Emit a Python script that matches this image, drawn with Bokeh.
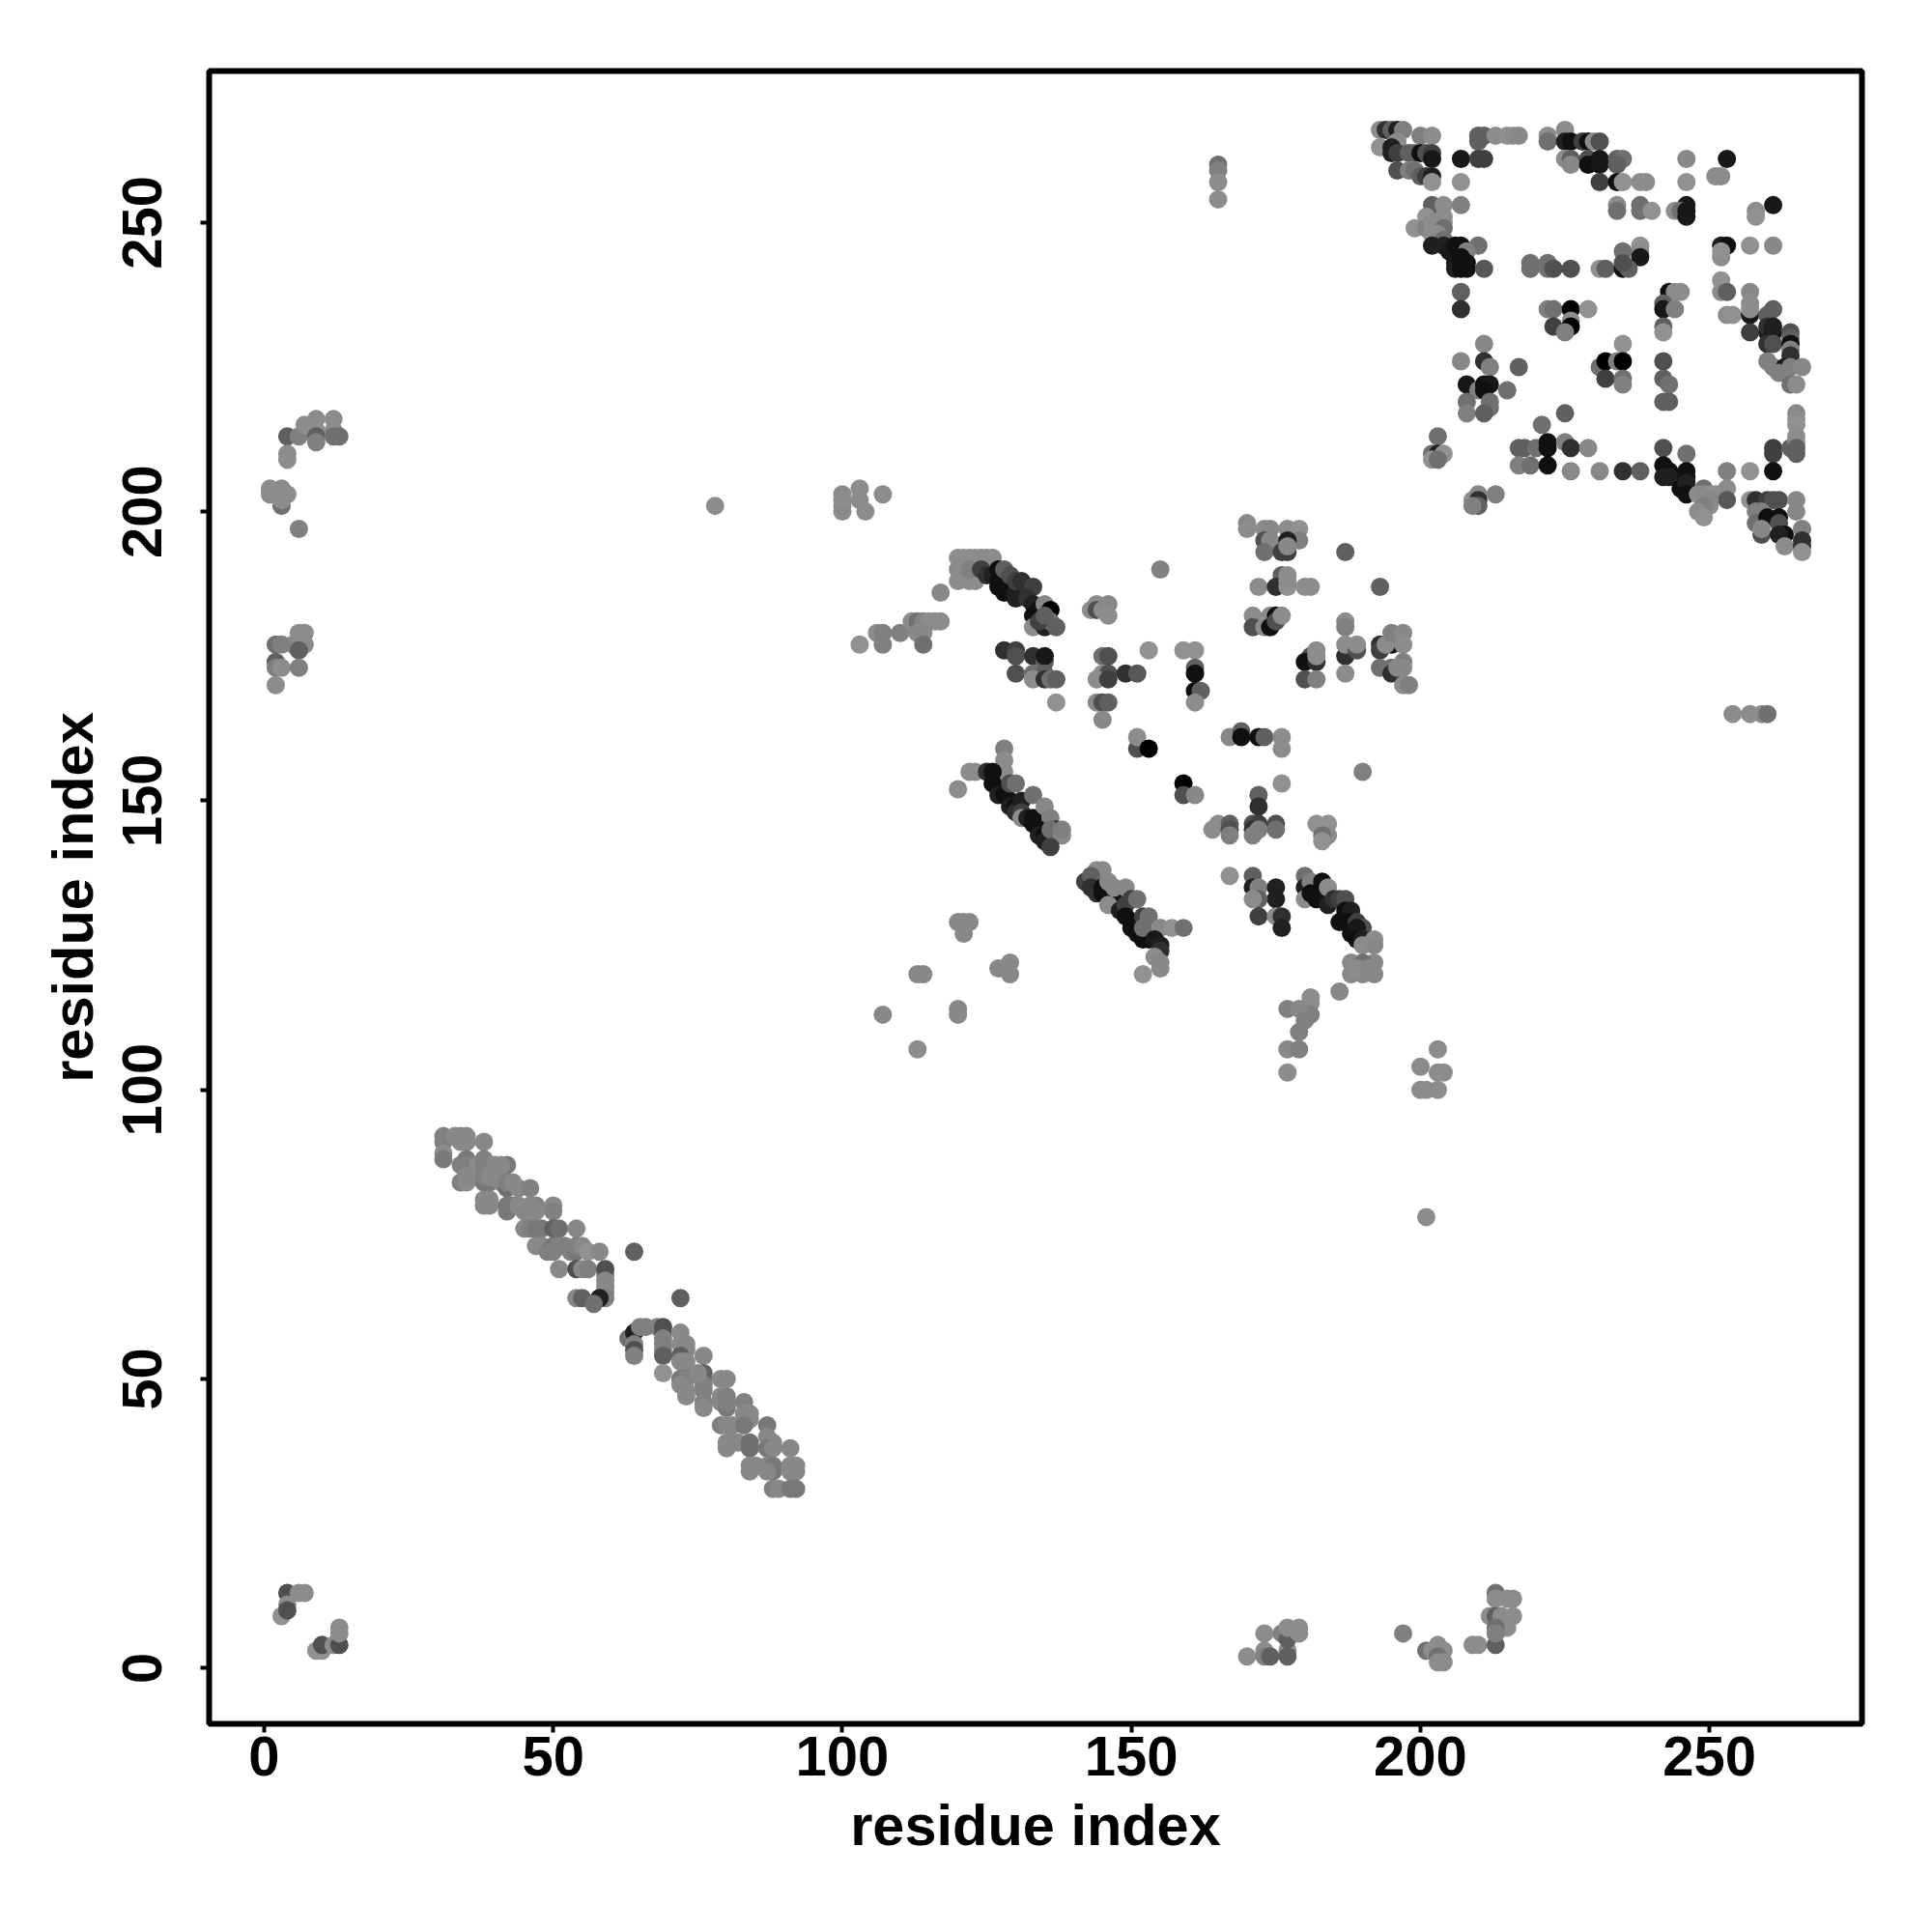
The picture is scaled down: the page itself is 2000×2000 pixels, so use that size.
from bokeh.plotting import figure
from bokeh.models import ColumnDataSource, Range1d, FixedTicker
from bokeh.embed import file_html
from bokeh.resources import INLINE

TICKS = [0, 50, 100, 150, 200, 250]
X_LABEL = "residue index"
Y_LABEL = "residue index"

# (residue i, residue j, grey level of the mark)
top_right = [
 (193,266,140),(194,266,48),(195,266,96),(196,266,32),(197,266,128),(200,265,128),(202,265,140),(210,265,96),(211,265,96),(213,265,140),(215,265,145),(216,265,140),(217,265,136),
 (222,265,140),(225,266,140),(210,264,96),(222,264,112),(225,264,32),(226,264,16),(228,264,64),(229,264,16),(230,264,140),(231,264,80),
 (193,263,145),(196,264,140),(195,263,32),(195,262,32),(196,262,64),(198,262,96),(199,262,96),(200,262,16),(201,262,80),(202,262,64),(202,261,24),
 (207,261,24),(210,261,64),(211,261,64),(225,261,140),(226,261,96),(229,261,80),(231,261,24),(234,261,96),(235,261,112),(246,261,136),(253,261,24),
 (196,259,80),(198,259,128),(199,259,112),(200,258,96),(201,258,64),(202,258,32),(226,260,136),(229,260,16),(231,260,24),(234,260,96),
 (202,257,145),(207,257,145),(231,257,64),(234,257,16),(235,257,145),(238,257,140),(239,257,140),(246,257,145),(251,258,140),(252,258,140),
 (202,253,96),(204,253,140),(207,253,128),(234,253,140),(238,253,112),(246,253,24),(261,253,24),(234,252,112),(238,252,112),(240,252,145),(244,252,140),(245,252,112),(246,252,24),(258,252,140),(258,251,145),(246,251,24),
 (199,249,145),(201,251,145),(201,249,128),(202,250,140),(203,250,140),(204,251,140),(204,250,140),(204,249,112),(203,248,140),(202,248,140),(204,247,112),
 (202,246,32),(204,246,32),(205,245,24),(206,246,16),(207,246,16),(210,246,112),(238,246,145),(238,245,140),(252,246,32),(253,246,16),(257,246,145),(261,246,136),(208,245,128),(235,245,112),(238,244,24),(252,244,140),(252,245,145),
 (206,243,24),(206,242,32),(207,244,16),(207,243,16),(207,242,16),(208,243,16),(208,242,16),(211,242,88),(219,243,112),(219,242,112),(222,243,112),(222,242,112),(223,242,80),(226,242,80),(231,242,145),(232,242,96),(235,242,16),(236,242,96),(235,243,80),
 (252,240,145),(207,238,96),(243,238,16),(244,238,140),(245,238,140),(252,238,140),(253,238,96),(257,238,136),(257,236,140),(207,235,48),(222,235,128),(223,235,112),(226,235,0),(229,235,145),
 (242,236,96),(242,235,24),(244,235,128),(253,234,140),(254,234,145),(257,234,24),(257,235,140),(261,235,96),(260,234,96),(226,233,140),(223,232,64),(226,232,0),(225,231,128),
 (242,232,96),(242,231,145),(257,231,64),(260,231,32),(260,232,48),(261,231,24),(261,232,32),(264,231,80),(264,230,96),(211,229,136),(235,229,145),(260,229,48),(261,229,80),(264,229,16),(264,228,128),(264,227,48),
 (207,226,136),(211,226,48),(212,225,128),(217,225,96),(231,225,112),(232,226,0),(234,226,128),(235,226,0),(242,226,80),(260,226,128),(261,225,128),(263,225,24),(262,224,128),(264,225,128),(266,225,136),
 (208,222,24),(210,221,128),(211,222,16),(212,222,24),(211,221,16),(215,221,112),(232,223,64),(235,223,112),(235,222,128),(242,223,96),(243,222,112),(264,222,112),(265,222,140),
 (208,219,112),(212,219,112),(212,218,112),(242,219,96),(243,219,96),(208,217,128),(211,217,96),(225,217,96),(265,217,136),(265,216,140),(265,215,145),(221,215,112),(265,213,140),(203,213,112),
 (217,211,96),(218,211,96),(220,211,112),(222,212,16),(222,211,16),(225,212,128),(226,211,48),(229,211,136),(242,211,80),(246,210,112),(261,211,64),(261,210,64),(264,211,96),(265,212,140),(265,211,96),(265,210,96),
 (202,210,112),(203,210,32),(204,210,145),(202,209,145),(203,209,112),(217,208,128),(219,208,112),(222,208,16),(226,207,136),(231,207,136),(235,207,48),(238,207,96),(253,207,128),(257,207,145),(261,207,16),
 (242,208,16),(243,207,16),(242,206,32),(243,206,32),(245,205,32),(246,207,16),(246,206,16),(245,204,16),(246,205,32),(246,203,16),(249,204,112),
 (209,202,145),(210,203,136),(210,202,48),(210,201,96),(209,201,128),(213,203,128),
 (248,203,140),(249,203,136),(250,203,140),(251,203,145),(252,203,140),(253,204,140),(253,202,88),(250,201,140),(250,202,136),(249,201,128),(248,200,140),(249,199,145),
 (257,202,145),(258,202,48),(260,202,64),(261,202,80),(262,202,80),(265,202,136),(265,200,136),(258,200,128),(259,200,128),(258,198,112),(259,196,80),(260,199,16),(262,199,16),(262,198,80),(263,196,16),(262,196,32),(263,194,140),(266,197,128),(266,195,48),(266,194,48),(266,193,145),(259,197,136),
 (187,193,96),(193,187,96),
]

mid_block = [
 (170,198,136),(170,197,140),(173,197,140),(174,197,136),(177,197,140),(179,197,145),(179,195,128),(173,195,80),(174,195,136),(177,195,32),(173,193,112),(176,193,64),(177,193,64),(177,194,136),
 (172,187,140),(176,189,96),(175,187,48),(177,189,140),(177,187,145),(180,187,140),(181,187,140),(177,188,140),
 (171,182,140),(171,180,80),(174,182,140),(173,180,140),(174,180,16),(175,182,16),(175,181,80),(176,182,140),
 (181,175,80),(180,174,16),(182,174,48),(182,175,140),(182,176,140),(180,171,80),(182,171,128),
 (187,181,140),(187,180,128),(187,175,48),(187,177,140),(189,176,80),(189,177,140),(187,172,140),
 (193,177,48),(193,176,64),(193,173,112),(195,173,112),(195,172,48),(195,177,16),(194,177,140),(195,179,128),(197,179,136),(197,177,140),(197,174,128),(196,173,136),(197,173,136),(197,170,140),(198,170,128),
]

arc_upper = [
 (120,192,140),(121,192,140),(122,192,140),(123,192,140),(124,192,140),(125,192,140),(126,192,140),(120,190,136),(121,190,140),(120,188,140),(122,188,140),(123,188,140),(117,186,136),(122,190,128),
 (124,190,64),(125,189,48),(126,189,32),(127,190,16),(127,188,16),(127,187,16),(128,187,16),(128,186,16),(129,186,16),(130,186,32),(130,185,32),(128,190,96),(129,189,80),(130,188,64),(131,188,48),(132,187,48),(133,187,64),(132,185,48),(133,184,32),(134,183,16),(133,182,16),(135,184,136),(136,183,0),
 (133,180,140),(135,180,32),(136,181,112),(137,180,96),(134,181,64),(135,182,96),
 (103,177,145),(106,179,140),(107,179,128),(107,177,128),(110,179,128),(112,181,140),(113,181,112),(114,181,128),(115,181,140),(116,181,140),(117,181,140),(113,179,136),(114,179,136),(114,177,112),
 (128,176,48),(130,176,64),(130,175,80),(133,175,48),(135,174,96),(135,175,24),(130,172,80),(133,172,112),(135,172,96),(133,171,140),(135,171,48),(136,171,112),(137,171,96),(137,167,145),
 (143,183,140),(144,184,140),(144,183,80),(145,183,140),(146,184,136),(146,182,140),(155,190,128),(153,176,145),(159,176,145),(161,176,145),
 (145,175,112),(146,175,80),(145,172,140),(146,172,80),(144,171,140),(146,171,64),(149,172,48),(151,172,88),
 (144,167,136),(145,167,80),(146,167,96),(145,164,136),(161,173,96),(161,172,16),(161,169,16),(162,169,96),(161,167,140),
 (151,159,80),(151,161,140),(153,159,0),(159,153,0),(159,151,80),(161,151,136),(164,145,140),
]

strand_lower = [
 (128,159,128),(128,157,140),(128,155,140),(122,155,140),(123,155,140),(120,152,140),(125,155,48),(126,155,16),
 (126,153,16),(127,152,16),(127,151,32),(128,151,16),(129,150,16),(129,149,32),(130,149,16),(130,148,48),(129,153,80),(130,153,112),(131,150,32),(131,148,64),(131,147,140),(132,147,32),(133,151,112),(133,146,16),(133,147,16),(135,149,136),(136,147,128),(134,145,16),(134,144,32),(135,144,16),(135,143,32),(137,145,32),(136,145,112),(138,144,136),(136,142,64),(138,145,128),
 (144,138,140),(145,138,136),(142,136,64),(143,137,96),(143,135,48),(144,134,48),(145,134,16),(145,135,16),(146,133,16),(147,133,16),(146,136,136),(147,135,136),(149,135,136),(146,132,140),(148,131,32),(149,132,64),(150,133,64),(151,133,112),(149,130,16),(150,129,16),(150,128,16),(151,128,16),(151,127,16),(152,130,64),(153,130,112),(152,126,16),(153,126,16),(152,128,112),
 (155,128,136),(157,128,145),(159,128,112),(154,126,24),(155,125,32),(155,124,48),(154,123,140),(155,122,136),(155,121,136),(152,120,145),
 (127,121,136),(129,122,136),(129,120,136),(128,121,136),
 (120,129,136),(122,129,136),(121,129,136),(121,127,136),(113,120,136),(114,120,136),(120,114,136),(120,113,136),(107,113,136),(113,107,140),
]

arc_right = [
 (165,146,140),(167,146,96),(167,145,80),(167,144,128),(171,146,80),(172,146,64),(175,146,80),(175,145,112),(171,145,48),(172,145,128),(171,144,128),(172,151,96),(172,149,48),
 (167,161,136),(169,162,96),(169,161,16),(172,161,16),(173,161,96),(176,161,140),(176,159,140),(176,153,145),(190,155,128),
 (182,146,145),(184,146,145),(184,144,140),(183,144,112),(183,143,145),
 (167,137,145),(171,137,96),(171,135,32),(172,135,128),(175,135,32),(175,133,32),(172,133,96),(171,133,140),(172,130,64),(175,130,140),(176,130,48),(176,128,32),
 (180,137,112),(180,135,32),(180,133,140),(181,136,128),(181,134,16),(182,133,16),(183,136,16),(183,134,16),(184,135,140),(184,132,32),(185,133,48),(186,133,64),(187,133,80),(187,131,16),(188,131,32),(186,129,16),(187,129,16),(188,129,16),(189,129,64),(190,128,80),(188,127,16),(189,128,24),(189,126,16),(190,126,32),(190,125,140),(192,126,140),(192,125,136),
 (188,122,136),(188,120,136),(190,120,136),(192,122,136),(192,120,136),(190,122,112),(189,121,140),(191,121,136),(186,117,136),
 (181,116,140),(181,115,140),(181,113,128),(177,114,128),(179,114,136),(180,112,128),(179,110,128),(177,107,136),(179,107,128),(177,103,140),
]

strand_anti = [
 (31,92,128),(31,91,128),(31,89,140),(31,88,120),(33,92,136),(34,92,136),(35,92,136),(34,91,136),(35,91,136),(38,91,136),(34,87,128),(35,88,120),(35,87,128),(37,87,140),(38,88,128),(39,87,136),(38,87,128),(40,87,136),(42,87,120),(41,87,136),
 (34,84,128),(35,84,140),(35,85,136),(38,84,120),(39,84,120),(38,85,128),(39,85,136),(41,84,136),(42,83,112),(42,84,128),(43,84,136),(44,83,136),(46,83,128),(38,80,136),(39,80,136),(38,81,136),(39,81,136),(42,79,120),(42,80,120),(43,80,120),(44,80,136),(45,79,136),(47,80,128),(47,79,136),(46,80,136),(46,79,136),(50,80,136),(50,79,128),
 (45,76,136),(46,76,128),(47,76,120),(48,76,120),(50,76,96),(51,76,112),(54,76,136),(47,73,136),(48,73,136),(49,72,128),(50,73,120),(50,72,128),(51,73,128),(52,73,128),(53,72,128),(54,72,120),(54,73,128),(55,73,136),(56,72,145),(58,72,136),
 (51,69,136),(54,69,80),(55,69,136),(56,69,128),(59,68,128),(59,69,80),(59,67,136),(59,66,136),(59,65,136),(59,64,128),(58,64,32),(54,64,136),(55,64,96),(57,63,112),(64,72,96),(72,64,96),
 (63,57,112),(64,58,32),(64,56,128),(64,55,80),(64,54,128),(65,59,128),(66,59,128),(68,59,128),(69,58,96),(69,59,80),(69,57,128),(69,56,128),(69,55,128),(69,54,96),(69,51,145),(72,58,136),(72,56,140),(73,56,136),(73,55,136),(72,54,96),(72,53,136),(73,53,136),(73,52,136),(72,50,120),(73,50,128),
 (72,49,136),(73,48,136),(73,47,136),(76,54,136),(76,50,112),(76,51,96),(76,49,128),(76,48,128),(76,46,128),(76,45,136),(75,51,136),(79,50,136),(80,50,136),(79,47,136),(79,46,136),(80,47,128),(80,45,120),(80,46,128),(79,42,128),(80,42,136),(81,42,136),(83,46,128),(83,44,136),(84,44,136),(84,43,136),(83,42,120),
 (80,38,136),(81,39,136),(80,39,136),(82,39,136),(84,38,112),(84,39,112),(87,42,120),(87,40,136),(88,39,136),(87,38,120),(88,38,136),(91,38,136),(84,35,136),(85,35,136),(87,35,136),(88,35,120),(88,34,120),(84,34,136),(87,34,136),(91,35,136),(92,35,136),(91,34,136),(92,34,136),(88,31,128),(89,31,136),(91,31,120),(92,31,120),
]

scattered = [
 (3,9,145),(4,13,80),(4,11,140),(4,10,80),(6,13,140),(7,13,140),(9,3,145),(10,3,145),(10,4,80),(12,4,140),(13,4,80),(13,6,140),(13,7,140),
 (170,2,140),(173,6,140),(173,3,140),(173,2,128),(174,2,96),(177,3,140),(177,2,96),(176,6,128),(177,5,96),(177,7,140),(179,7,140),(179,6,140),
 (197,6,128),(201,3,112),(202,3,140),(203,4,140),(204,3,140),(203,2,112),(203,1,140),(204,1,140),(209,4,140),(210,4,140),(213,4,96),(213,13,112),(213,12,140),(215,12,140),(216,12,140),(212,9,140),(213,9,96),(214,9,140),(216,9,140),(215,7,140),(213,7,112),(213,6,128),
 (4,213,96),(6,213,128),(7,215,140),(9,216,140),(9,214,140),(9,213,96),(9,212,128),(12,216,140),(12,214,140),(12,213,112),(13,213,112),(4,210,140),(4,209,140),
 (1,204,140),(1,203,140),(3,204,140),(3,201,112),(3,202,140),(4,203,140),(6,197,128),
 (6,179,140),(7,179,140),(5,177,140),(7,177,140),(6,176,96),(2,177,112),(3,177,128),(2,174,96),(2,173,128),(3,173,140),(6,173,128),(2,170,140),
 (78,201,140),(201,78,140),(100,200,140),(100,201,136),(100,202,140),(100,203,140),(103,202,140),(103,204,140),(104,200,140),(107,203,140),
 (200,100,140),(201,100,140),(203,100,140),(200,104,140),(203,103,140),(204,103,140),(203,107,140),
 (165,260,112),(165,259,128),(165,257,140),(165,254,140),(254,165,140),(257,165,140),(259,165,140),(260,165,112),
]

marks = top_right + mid_block + arc_upper + strand_lower + arc_right + strand_anti + scattered
xs = [m[0] for m in marks]
ys = [m[1] for m in marks]
colors = ["#%02x%02x%02x" % (m[2], m[2], m[2]) for m in marks]

p = figure(width=1970, height=1950, output_backend="svg", toolbar_location=None,
           x_range=Range1d(-9.52, 276.36), y_range=Range1d(-9.64, 276.2),
           min_border_left=216, min_border_right=43, min_border_top=73, min_border_bottom=166)
p.grid.visible = False
p.background_fill_color = "white"
p.border_fill_color = "white"
p.outline_line_color = "black"
p.outline_line_width = 6

src = ColumnDataSource(dict(x=xs, y=ys, c=colors))
p.scatter("x", "y", source=src, size=19, fill_color="c", line_color=None, marker="circle")

for ax in (p.xaxis[0], p.yaxis[0]):
    ax.ticker = FixedTicker(ticks=TICKS)
    ax.axis_line_color = None
    ax.major_tick_in = 0
    ax.major_tick_out = 9
    ax.major_tick_line_width = 4
    ax.major_tick_line_color = "black"
    ax.minor_tick_line_color = None
    ax.major_label_text_font = "Liberation Sans"
    ax.major_label_text_font_style = "bold"
    ax.major_label_text_font_size = "58px"
    ax.major_label_text_color = "black"
    ax.axis_label_text_font = "Liberation Sans"
    ax.axis_label_text_font_style = "bold"
    ax.axis_label_text_font_size = "59.5px"
    ax.axis_label_text_color = "black"

p.xaxis[0].axis_label = X_LABEL
p.yaxis[0].axis_label = Y_LABEL
p.yaxis[0].major_label_orientation = "vertical"
p.xaxis[0].major_label_standoff = 4
p.yaxis[0].major_label_standoff = 40
p.xaxis[0].axis_label_standoff = 15
p.yaxis[0].axis_label_standoff = 16

open("out.html", "w").write(file_html(p, INLINE))
